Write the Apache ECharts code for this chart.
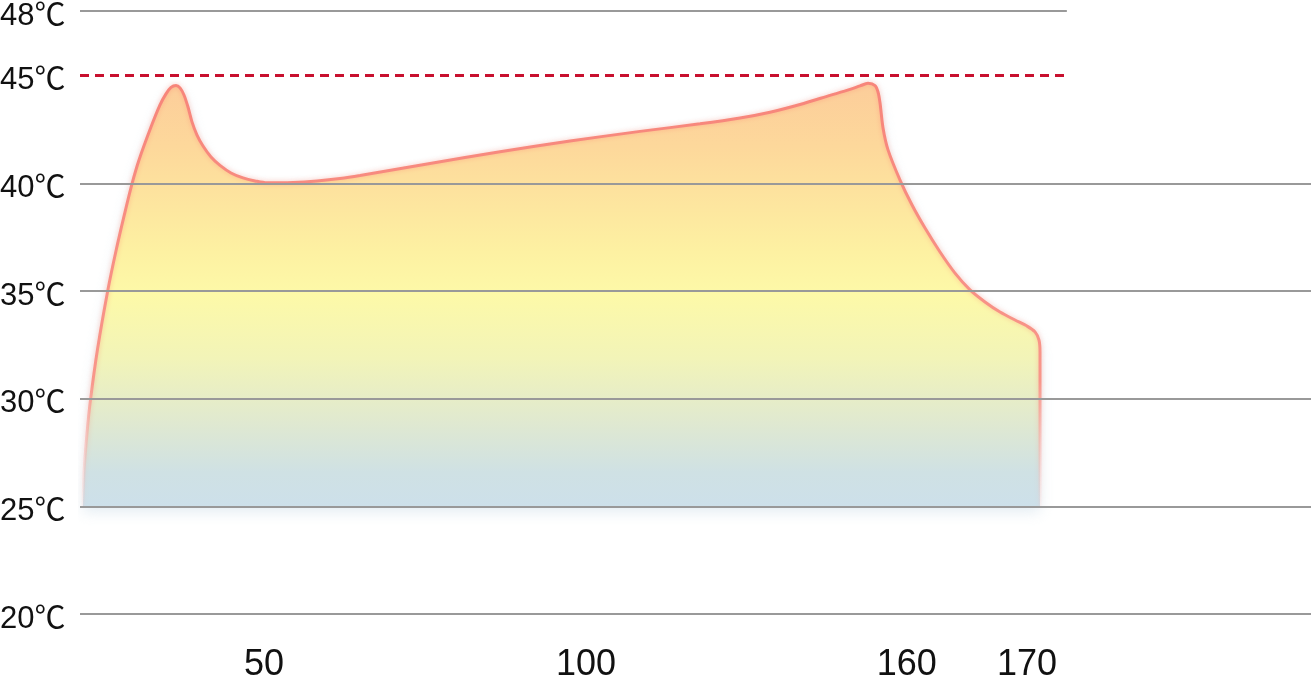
<!DOCTYPE html>
<html>
<head>
<meta charset="utf-8">
<title>Temperature curve</title>
<script src="https://cdn.jsdelivr.net/npm/echarts@6/dist/echarts.min.js"></script>
<style>
  html, body { margin: 0; padding: 0; background: #fff; }
  #chart { width: 1311px; height: 677px; }
</style>
</head>
<body>
<div id="chart"></div>
<script>
  // time axis (arbitrary units) and temperature in ℃
  const timeValues = [0.73, 1.02, 1.78, 2.58, 4.24, 6.75, 8.82, 10.8, 12.67, 14.38, 17.3, 19.5, 20.96, 22.18,
    23.4, 24.37, 25.34, 26.32, 27.29, 28.51, 29.98, 31.93, 34.12, 36.8, 39.72, 42.65, 45.57, 51.91, 57.76,
    63.36, 68.24, 85.3, 102.36, 119.42, 136.48, 151.1, 160.85, 168.16, 175.47, 182.78, 187.65, 190.09,
    192.04, 193.75, 194.48, 194.97, 195.7, 196.92,
    199.84, 202.77, 205.93, 209.59, 213.24, 216.9, 220.55, 224.21, 227.87, 230.79, 232.74, 233.71,
    233.96, 233.96, 233.96];
  const tempValues = [25.0, 26.69, 28.54, 29.98, 32.26, 35.0, 36.9, 38.53, 39.97, 41.08, 42.61, 43.64, 44.15, 44.45,
    44.54, 44.43, 44.1, 43.54, 42.85, 42.24, 41.73, 41.22, 40.83, 40.48, 40.25, 40.11, 40.02, 40.04, 40.11,
    40.22, 40.36, 40.92, 41.46, 41.96, 42.41, 42.76, 43.03, 43.3, 43.66, 44.08, 44.36, 44.52,
    44.64, 44.54, 44.24, 43.73, 42.57, 41.55,
    40.15, 38.99, 37.92, 36.81, 35.83, 35.05, 34.49, 34.02, 33.65, 33.37, 33.1, 32.72,
    32.17, 29.01, 25.0];

  const yTickValues = [20, 25, 30, 35, 40, 45, 48];
  const gridTemps = [20, 25, 30, 35, 40];
  const limitTemp = 45;
  const topTemp = 48;
  const shortLineEnd = 240.5;

  const xTickValues = [44.84, 123.3, 201.5, 230.8];
  const xTickLabels = ['50', '100', '160', '170'];

  const chart = echarts.init(document.getElementById('chart'));

  const seriesData = timeValues.map((t, i) => [t, tempValues[i]]);

  const option = {
    animation: false,
    grid: { left: 80, right: 0, top: 11, bottom: 63, containLabel: false, outerBoundsMode: 'none' },
    xAxis: {
      type: 'value',
      min: 0,
      max: 300,
      axisLine: { show: false },
      axisTick: { show: false },
      splitLine: { show: false },
      axisLabel: {
        customValues: xTickValues,
        margin: 33,
        color: '#111',
        fontSize: 36,
        fontFamily: 'Liberation Sans',
        formatter: (v) => {
          const i = xTickValues.indexOf(v);
          return i >= 0 ? xTickLabels[i] : '';
        }
      }
    },
    yAxis: {
      type: 'value',
      min: 20,
      max: 48,
      axisLine: { show: false },
      axisTick: { show: false },
      splitLine: { show: false },
      axisLabel: {
        customValues: yTickValues,
        align: 'left',
        verticalAlign: 'top',
        lineHeight: 10,
        margin: 80,
        color: '#111',
        fontSize: 31,
        fontFamily: 'Liberation Sans, Noto Sans CJK SC',
        formatter: (v) => v + '℃'
      }
    },
    series: [
      {
        name: 'grid',
        type: 'line',
        data: [],
        silent: true,
        z: 1,
        markLine: {
          silent: true,
          symbol: 'none',
          label: { show: false },
          data: [
            ...gridTemps.map((t) => ({ yAxis: t, lineStyle: { color: '#999', width: 2, type: 'solid' } })),
            [
              { coord: [0, topTemp], lineStyle: { color: '#999', width: 2, type: 'solid' } },
              { coord: [shortLineEnd, topTemp] }
            ],
            [
              { coord: [0, limitTemp], lineStyle: { color: '#c8102e', width: 3, type: [9, 6] } },
              { coord: [shortLineEnd, limitTemp] }
            ]
          ]
        }
      },
      {
        name: 'temperature',
        type: 'line',
        z: 3,
        data: seriesData,
        smooth: 0.3,
        showSymbol: false,
        lineStyle: {
          width: 3,
          color: new echarts.graphic.LinearGradient(0, 0, 0, 1, [
            { offset: 0, color: '#f7857a' },
            { offset: 0.7, color: '#f8968a' },
            { offset: 1, color: 'rgba(250,200,200,0.1)' }
          ]),
          shadowColor: 'rgba(250,130,110,0.45)',
          shadowBlur: 5
        },
        areaStyle: {
          origin: 25,
          opacity: 1,
          shadowColor: 'rgba(195,215,228,0.45)',
          shadowBlur: 14,
          shadowOffsetY: 6,
          color: new echarts.graphic.LinearGradient(0, 0, 0, 1, [
            { offset: 0, color: '#fccd9a' },
            { offset: 0.15, color: '#fdd89b' },
            { offset: 0.4, color: '#fdf1a2' },
            { offset: 0.5, color: '#fdf9a8' },
            { offset: 0.65, color: '#f2f4b8' },
            { offset: 0.8, color: '#e0e9d0' },
            { offset: 0.92, color: '#cfe1e4' },
            { offset: 1, color: '#cde0ea' }
          ])
        }
      }
    ]
  };

  option && chart.setOption(option);
</script>
</body>
</html>
